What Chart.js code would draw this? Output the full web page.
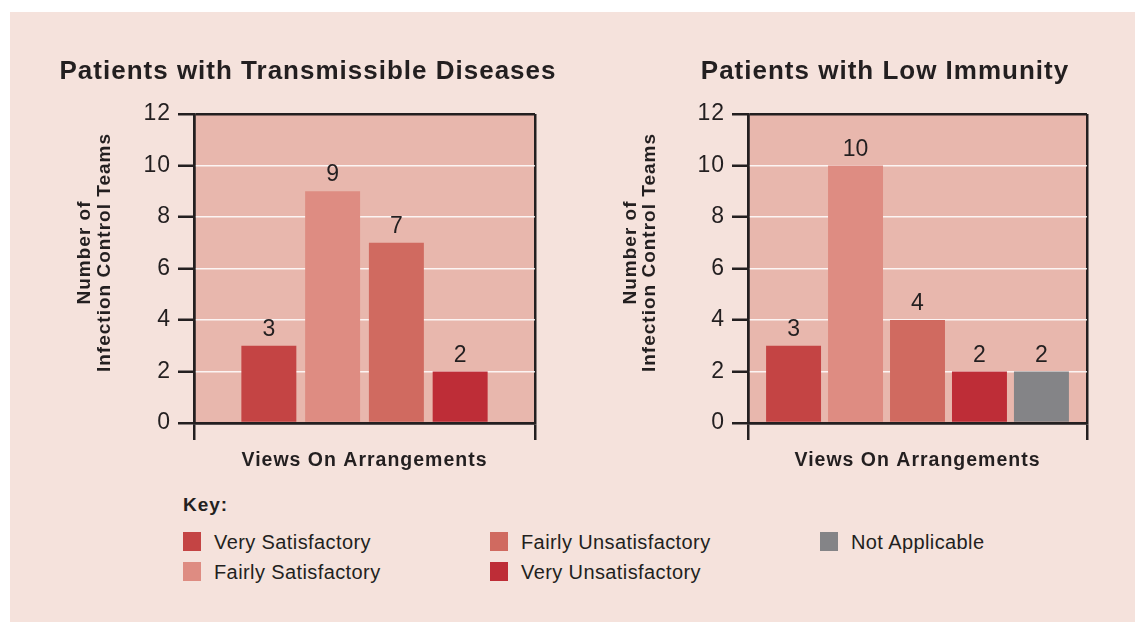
<!DOCTYPE html>
<html><head><meta charset="utf-8">
<script src="https://cdn.jsdelivr.net/npm/chart.js@4.4.1/dist/chart.umd.min.js"></script>
<style>
html,body{margin:0;padding:0;width:1135px;height:622px;overflow:hidden;background:#fff;font-family:"Liberation Sans",Arial,sans-serif;color:#231f20;}
#wrap{position:absolute;left:0;top:0;width:1135px;height:622px;overflow:hidden;}
#panel{position:absolute;left:10px;top:12px;width:1125px;height:610px;background:#f5e2dc;}
#c1{position:absolute;left:40px;top:41px;}
#c2{position:absolute;left:615px;top:41px;}
#key{position:absolute;left:183px;top:494px;font-weight:bold;font-size:19px;line-height:22px;letter-spacing:1px;}
.sw{position:absolute;width:18px;height:19px;}
.lt{position:absolute;font-size:20px;line-height:24px;letter-spacing:0.4px;white-space:nowrap;}
</style></head>
<body>
<div id="wrap">
<div id="panel"></div>
<canvas id="c1" width="536" height="431"></canvas>
<canvas id="c2" width="540" height="431"></canvas>
<div id="key">Key:</div>
<div id="legend"></div>
</div>
<script>
// ---- data ----
const categories = ['Very Satisfactory','Fairly Satisfactory','Fairly Unsatisfactory','Very Unsatisfactory','Not Applicable'];
const transmissibleValues = [3, 9, 7, 2];          // first four categories
const lowImmunityValues = [3, 10, 4, 2, 2];       // all five categories
const yTickValues = [0, 2, 4, 6, 8, 10, 12];
const chartTitles = ['Patients with Transmissible Diseases', 'Patients with Low Immunity'];
const xAxisTitle = 'Views On Arrangements';
const yAxisTitle = ['Number of', 'Infection Control Teams'];

// ---- styles ----
const colors = ['#c44444', '#de8c82', '#d06a60', '#be2d37', '#848487'];
const DARK = '#231f20';
const PLOT_BG = '#e8b7ad';
const FONT = "'Liberation Sans', Arial, Helvetica, sans-serif";
Chart.defaults.font.family = FONT;
Chart.defaults.color = DARK;

const plotBgPlugin = {
  id: 'plotBg',
  beforeDraw(chart) {
    const {ctx, chartArea: a} = chart;
    ctx.letterSpacing = '1px';
    ctx.save();
    ctx.fillStyle = PLOT_BG;
    ctx.fillRect(a.left, a.top, a.right - a.left, a.bottom - a.top);
    ctx.restore();
  }
};

const yTitlePlugin = {
  id: 'yTitle',
  afterDraw(chart, args, opts) {
    const {ctx, chartArea: a} = chart;
    const yc = (a.top + a.bottom) / 2 - opts.raise;
    ctx.save();
    ctx.fillStyle = DARK;
    ctx.font = 'bold 19px ' + FONT;
    ctx.letterSpacing = '1px';
    ctx.textAlign = 'center';
    ctx.textBaseline = 'middle';
    yAxisTitle.forEach((line, i) => {
      ctx.save();
      ctx.translate(a.left - opts.offsets[i], yc);
      ctx.rotate(-Math.PI / 2);
      ctx.fillText(line, 0, 0);
      ctx.restore();
    });
    ctx.restore();
  }
};

const valueLabelPlugin = {
  id: 'valueLabels',
  afterDatasetsDraw(chart) {
    const {ctx} = chart;
    ctx.save();
    ctx.letterSpacing = '0px';
    ctx.font = '23px ' + FONT;
    ctx.fillStyle = DARK;
    ctx.textAlign = 'center';
    ctx.textBaseline = 'alphabetic';
    chart.data.datasets.forEach((ds, i) => {
      const meta = chart.getDatasetMeta(i);
      meta.data.forEach((el, j) => {
        ctx.fillText(String(ds.data[j]), el.x, el.y - 10);
      });
    });
    ctx.restore();
  }
};

function makeChart(id, values, title, cfg) {
  const datasets = values.map((v, i) => ({
    label: categories[i],
    data: [v],
    yAxisID: 'y',
    backgroundColor: colors[i],
    borderWidth: 0,
    barPercentage: cfg.barPct,
    categoryPercentage: cfg.catPct
  }));
  return new Chart(document.getElementById(id), {
    type: 'bar',
    data: { labels: [xAxisTitle], datasets },
    options: {
      responsive: false,
      animation: false,
      layout: { padding: 0 },
      plugins: {
        legend: { display: false },
        tooltip: { enabled: false },
        title: {
          display: true, text: title, color: DARK,
          font: { size: 26, weight: 'bold', family: FONT, lineHeight: 1.2 },
          padding: { top: 15.4, bottom: 26.4 }
        },
        yTitle: { offsets: cfg.yOffsets, raise: 16 }
      },
      scales: {
        x: {
          ticks: { display: false },
          grid: { display: true, offset: true, color: DARK, lineWidth: 2.5, tickLength: 17, drawTicks: true, tickColor: DARK, tickWidth: 2.5 },
          border: { display: true, color: DARK, width: 2.5, z: 1 },
          title: { display: true, text: xAxisTitle, color: DARK, font: { size: 19.5, weight: 'bold', family: FONT, lineHeight: 1.2 }, padding: { top: 0, bottom: 0 } },
          afterFit(s) { s.height = 49; }
        },
        y: {
          position: 'left',
          min: 0, max: 12,
          afterBuildTicks(s) { s.ticks = yTickValues.map(v => ({ value: v })); },
          ticks: { color: DARK, font: { size: 23, family: FONT }, padding: 7 },
          grid: {
            color: c => (c.tick && (c.tick.value === 0 || c.tick.value === 12)) ? DARK : 'rgba(255,255,255,0.85)',
            lineWidth: c => (c.tick && (c.tick.value === 0 || c.tick.value === 12)) ? 2.5 : 1.5,
            tickColor: DARK, tickWidth: 2.5, tickLength: 16, drawTicks: true
          },
          border: { display: true, color: DARK, width: 2.5, z: 1 },
          afterFit(s) { s.width = cfg.yw; }
        },
        yR: {
          type: 'linear', position: 'right', display: true, min: 0, max: 12,
          ticks: { display: false },
          grid: { display: false, drawTicks: false },
          border: { display: false },
          title: { display: false },
          afterFit(s) { s.width = cfg.rw; }
        }
      }
    },
    plugins: [plotBgPlugin, yTitlePlugin, valueLabelPlugin]
  });
}

// left chart: canvas 40..576 -> title centred at 308, plot 194..535
makeChart('c1', transmissibleValues, chartTitles[0], { yw: 154, rw: 41, catPct: 0.748, barPct: 0.862, yOffsets: [109, 89] });
// right chart: canvas 615..1155 -> title centred at 885, plot 748..1087
makeChart('c2', lowImmunityValues, chartTitles[1], { yw: 133, rw: 68, catPct: 0.914, barPct: 0.887, yOffsets: [117, 98] });

// ---- HTML key ----
const keyCols = [183, 490, 820];
const keyRows = [532, 562];
const legend = document.getElementById('legend');
categories.forEach((name, i) => {
  const x = keyCols[Math.floor(i / 2)];
  const y = keyRows[i % 2];
  const sw = document.createElement('div');
  sw.className = 'sw';
  sw.style.left = x + 'px'; sw.style.top = y + 'px'; sw.style.background = colors[i];
  const t = document.createElement('div');
  t.className = 'lt';
  t.style.left = (x + 31) + 'px'; t.style.top = (y - 2.5) + 'px';
  t.textContent = name;
  legend.appendChild(sw); legend.appendChild(t);
});
</script>
</body></html>
